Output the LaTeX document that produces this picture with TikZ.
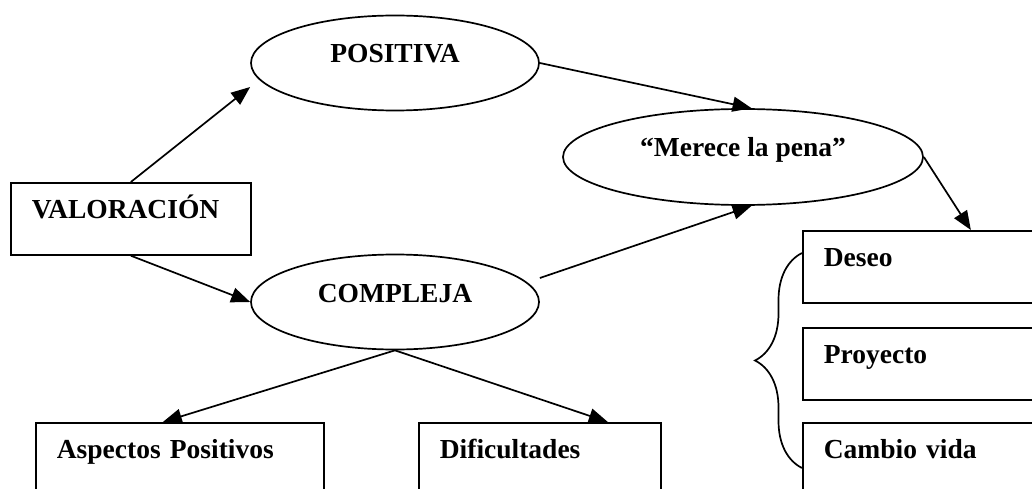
\documentclass[tikz,border=0pt]{standalone}
\usepackage{fontspec}
\setmainfont{Liberation Serif}
\usetikzlibrary{shapes.geometric,arrows.meta,decorations.pathreplacing}

\begin{document}
\begin{tikzpicture}[x=1pt,y=-1pt,line width=1.7pt,
  every node/.style={font=\fontsize{27.5}{32}\selectfont\bfseries,text height=10pt,text depth=10pt,inner sep=0pt},
  oval/.style={draw,ellipse,minimum height=95pt},
  box/.style={draw,rectangle,anchor=north west,minimum height=72pt,align=left,inner xsep=21pt},
  arr/.style={-{Triangle[length=19pt,width=15pt]}}]
\useasboundingbox (0,0) rectangle (1032,489);
\clip (0,0) rectangle (1032,489);
\node (val) [box,text width=198pt] at (10,182) {VALORACIÓN};
\node (pos) [oval,minimum width=288pt] at (395,63) {POSITIVA};
\node (comp) [oval,minimum width=288pt] at (395,302) {COMPLEJA};
\node (mer) [oval,minimum width=360pt,minimum height=96pt] at (743,157) {“Merece la pena”};
\node (des) [box,text width=218pt] at (802,230) {Deseo};
\node (pro) [box,text width=218pt] at (802,327) {Proyecto};
\node (cam) [box,text width=218pt] at (802,422) {Cambio vida};
\node (asp) [box,text width=246pt] at (35,422) {Aspectos Positivos};
\node (dif) [box,text width=200pt] at (418,422) {Dificultades};
\draw[arr] (val.north) -- ([yshift=-24pt]pos.west);
\draw[arr] (val.south) -- (comp.west);
\draw[arr] (pos.east) -- (mer.80);
\draw[arr] ([yshift=24pt]comp.east) -- (mer.-80);
\draw[arr] (mer.east) -- ([xshift=38pt]des.north);
\draw[arr] (comp.south) -- ([xshift=-17pt]asp.north);
\draw[arr] (comp.south) -- ([xshift=68pt]dif.north);
\draw[decorate,decoration={brace,amplitude=47pt}] (802,468) -- (802,253);
\end{tikzpicture}
\end{document}
